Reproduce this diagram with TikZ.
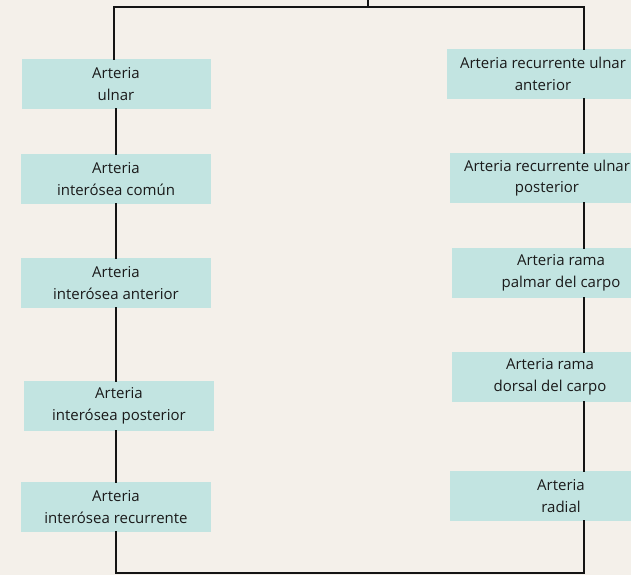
\documentclass[tikz,border=0pt]{standalone}
\usepackage{fontspec}
\setmainfont{Open Sans}
\definecolor{bgc}{HTML}{F4F0EA}
\definecolor{boxc}{HTML}{C2E4E1}
\definecolor{txtc}{HTML}{1A1A1A}
\begin{document}
\begin{tikzpicture}[x=1pt,y=-1pt,
  box/.style={fill=boxc, text=txtc, align=center, inner sep=0pt,
    minimum height=50pt, font=\fontsize{15}{21.5}\selectfont},
  conn/.style={line width=1.7pt, draw=black!92, line cap=rect}]
\useasboundingbox (0,0) rectangle (631,575);
\clip (0,0) rectangle (631,575);
\fill[bgc] (0,0) rectangle (631,575);
% left column
\node[box, minimum width=189pt] (b1) at (116,84) {Arteria\\ulnar};
\node[box, minimum width=190pt] (b2) at (116,179) {Arteria\\interósea común};
\node[box, minimum width=190pt] (b3) at (116,283) {Arteria\\interósea anterior};
\node[box, minimum width=190pt] (b4) at (119,406) {Arteria\\interósea posterior};
\node[box, minimum width=190pt] (b5) at (116,507) {Arteria\\interósea recurrente};
% right column
\node[box, minimum width=192pt] (r1) at (543,74) {Arteria recurrente ulnar\\anterior};
\node[box, minimum width=194pt] (r2) at (547,178) {Arteria recurrente ulnar\\posterior};
\node[box, minimum width=218pt] (r3) at (561,273) {Arteria rama\\palmar del carpo};
\node[box, minimum width=196pt] (r4) at (550,377) {Arteria rama\\dorsal del carpo};
\node[box, minimum width=222pt] (r5) at (561,496) {Arteria\\radial};
% frame coordinates
\coordinate (top) at (368,0);
\coordinate (tm) at (368,7);
\coordinate (tl) at (114,7);
\coordinate (tr) at (584,7);
\coordinate (bl) at (584,573);
% connectors
\draw[conn] (top) -- (tm);
\draw[conn] (tl) -- (tr);
\draw[conn] (tl) -- (tl |- b1.north);
\draw[conn] (b1.south) -- (b2.north);
\draw[conn] (b2.south) -- (b3.north);
\draw[conn] (b3.south) -- (b3.south |- b4.north);
\draw[conn] (b4.south -| b3.south) -- (b5.north);
\draw[conn] (b5.south) |- (bl) -- (bl |- r5.south);
\draw[conn] (tr) -- (tr |- r1.north);
\draw[conn] (tr |- r1.south) -- (tr |- r2.north);
\draw[conn] (tr |- r2.south) -- (tr |- r3.north);
\draw[conn] (tr |- r3.south) -- (tr |- r4.north);
\draw[conn] (tr |- r4.south) -- (tr |- r5.north);
\end{tikzpicture}
\end{document}
